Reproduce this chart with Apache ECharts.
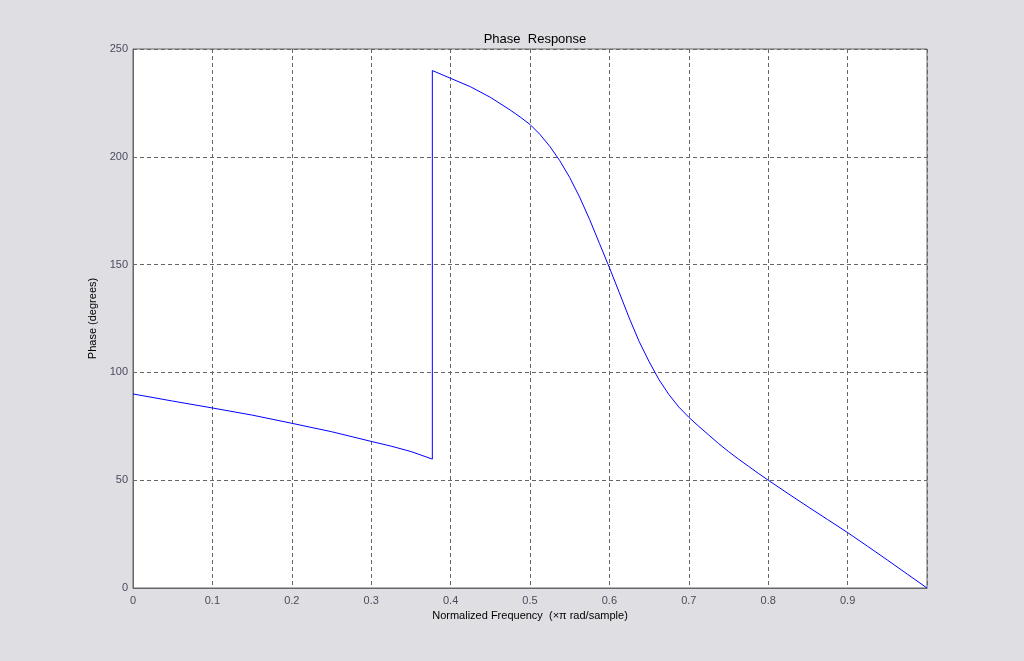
<!DOCTYPE html>
<html>
<head>
<meta charset="utf-8">
<script src="https://cdn.jsdelivr.net/npm/echarts@6/dist/echarts.min.js"></script>
<style>
html,body{margin:0;padding:0;background:#dfdfe3;}
#c{width:1024px;height:661px;}
</style>
</head>
<body>
<div id="c"></div>
<script>
var titleText = 'Phase  Response';
var xName = 'Normalized Frequency  (\u00d7\u03c0 rad/sample)';
var yName = 'Phase (degrees)';
var freq = [0, 0.05, 0.1, 0.15, 0.2, 0.25, 0.3, 0.325, 0.35, 0.377,
            0.377, 0.4, 0.425, 0.45, 0.475, 0.4875, 0.5, 0.5125, 0.525, 0.5375, 0.55, 0.5625, 0.575, 0.5875,
            0.6, 0.6125, 0.625, 0.6375, 0.65, 0.6625, 0.675, 0.6875, 0.7, 0.7125, 0.725, 0.7375, 0.75,
            0.7625, 0.775, 0.7875, 0.8, 0.825, 0.85, 0.875, 0.9, 0.925, 0.95, 0.975, 1.0];
var phase = [90, 86.7, 83.5, 80.2, 76.4, 72.5, 68.0, 65.8, 63.3, 59.8,
             240, 236.4, 232.5, 227.6, 221.7, 218.5, 215, 210.4, 204.8, 198.2, 190.4, 181.3, 171.0, 159.8,
             148.6, 137.0, 125.2, 114.3, 105.0, 96.6, 89.7, 83.9, 79.2, 75.0, 71.0, 67.0, 63.3,
             59.8, 56.5, 53.2, 50, 43.8, 37.7, 31.7, 25.7, 19.4, 13, 6.5, 0];

var data = freq.map(function (f, i) { return [f, phase[i]]; });
var chart = echarts.init(document.getElementById('c'));
var labelStyle = { color: '#4a4a5e', fontFamily: 'Liberation Sans, Arial, sans-serif', fontSize: 11 };
chart.setOption({
  backgroundColor: '#dfdfe3',
  animation: false,
  title: {
    text: titleText, left: 530, top: 28, textAlign: 'center',
    textStyle: { color: '#000', fontSize: 13, fontWeight: 'normal', fontFamily: 'Liberation Sans, Arial, sans-serif' }
  },
  grid: { left: 133, right: 97, top: 49, bottom: 73, show: true, backgroundColor: '#ffffff', borderColor: '#666666', borderWidth: 1 },
  xAxis: {
    type: 'value', min: 0, max: 1, interval: 0.1,
    name: xName, nameLocation: 'middle', nameGap: 21,
    nameTextStyle: { color: '#000', fontSize: 11, fontFamily: 'Liberation Sans, Arial, sans-serif' },
    axisLine: { show: true, lineStyle: { color: '#666666' } },
    axisTick: { show: false },
    axisLabel: Object.assign({ margin: 7, formatter: function (v) { return v >= 0.999 ? '' : String(Math.round(v * 10) / 10); } }, labelStyle),
    splitLine: { show: true, lineStyle: { color: '#666666', type: [4, 3], width: 1 } }
  },
  yAxis: {
    type: 'value', min: 0, max: 250, interval: 50,
    name: yName, nameLocation: 'middle', nameGap: 31, nameRotate: 90,
    nameTextStyle: { color: '#000', fontSize: 11, fontFamily: 'Liberation Sans, Arial, sans-serif' },
    axisLine: { show: true, lineStyle: { color: '#666666' } },
    axisTick: { show: false },
    axisLabel: Object.assign({ margin: 5 }, labelStyle),
    splitLine: { show: true, lineStyle: { color: '#666666', type: [4, 3], width: 1 } }
  },
  series: [{
    type: 'line', data: data, showSymbol: false, symbol: 'none',
    lineStyle: { color: '#0000ff', width: 1 }, itemStyle: { color: '#0000ff' }
  }]
});
</script>
</body>
</html>
